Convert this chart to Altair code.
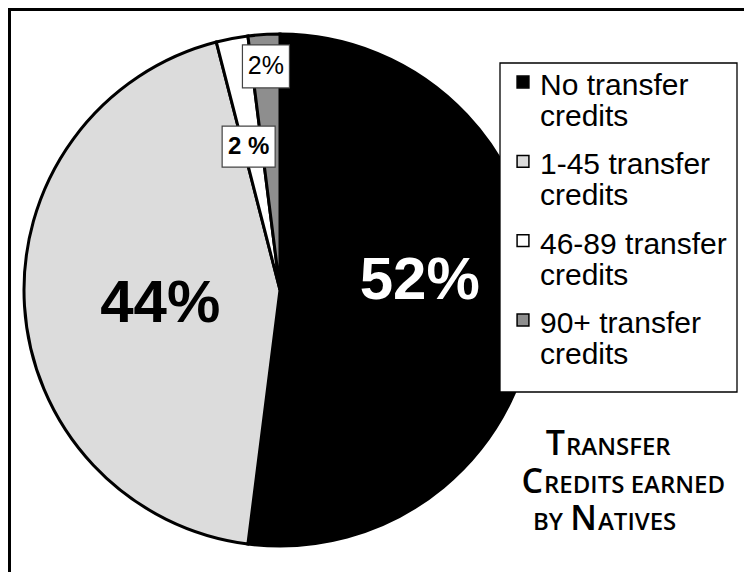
import math
import altair as alt
import pandas as pd

# ---- data ----
categories = ["No transfer credits", "1-45 transfer credits",
              "46-89 transfer credits", "90+ transfer credits"]
legend_line1 = ["No transfer", "1-45 transfer", "46-89 transfer", "90+ transfer"]
legend_line2 = ["credits", "credits", "credits", "credits"]
values = [52, 44, 2, 2]
labels = ["52%", "44%", "2 %", "2%"]
colors = ["#000000", "#dcdcdc", "#ffffff", "#8e8e8e"]

title_line1 = ["T", "RANSFER"]
title_line2 = ["C", "REDITS EARNED"]
title_line3 = ["BY", "N", "ATIVES"]

df = pd.DataFrame({
    "category": categories,
    "value": values,
    "label": labels,
    "legend": [a + "\n" + b for a, b in zip(legend_line1, legend_line2)],
    "idx": list(range(len(categories))),
})

W, H = 544, 564
PAD_RIGHT = 736 - W
R = 256
cx, cy = W / 2, H / 2
total = sum(values)

theta_scale = alt.Scale(domain=[0, total])
color_scale = alt.Scale(domain=categories, range=colors)
one = pd.DataFrame({"a": [0]})

base = alt.Chart(df)

pie = base.mark_arc(outerRadius=R, stroke="black", strokeWidth=3).encode(
    theta=alt.Theta("value:Q", stack=True, scale=theta_scale),
    color=alt.Color("category:N", scale=color_scale, legend=None),
    order=alt.Order("idx:Q"),
)

lab = base.transform_window(
    cum="sum(value)", sort=[alt.SortField("idx")], frame=[None, 0]
).transform_calculate(mid="datum.cum - datum.value / 2")


def slice_label(i, radius, size, weight, color, dx=0, dy=0):
    return lab.transform_filter(alt.datum.idx == i).mark_text(
        radius=radius, fontSize=size, fontWeight=weight, font="Liberation Sans",
        color=color, dx=dx, dy=dy, align="center", baseline="middle",
    ).encode(
        theta=alt.Theta("mid:Q", stack=False, scale=theta_scale),
        text="label:N",
    )


def box_for(i, radius, bw, bh, dx=0):
    cum = sum(values[: i + 1])
    a = 2 * math.pi * (cum - values[i] / 2) / total
    bx = cx + radius * math.sin(a) + dx
    by = cy - radius * math.cos(a)
    return alt.Chart(one).mark_rect(fill="white", stroke="#444", strokeWidth=1.2).encode(
        x=alt.value(bx - bw / 2), x2=alt.value(bx + bw / 2),
        y=alt.value(by - bh / 2), y2=alt.value(by + bh / 2),
    )


lab52 = slice_label(0, 140, 60, "bold", "white", dy=-18)
lab44 = slice_label(1, 120, 60, "bold", "black", dy=6)
box46 = box_for(2, 146, 53, 41, dx=-4)
lab46 = slice_label(2, 146, 24, "bold", "black", dx=-4)
box90 = box_for(3, 224, 47, 43)
lab90 = slice_label(3, 224, 25, "normal", "black")

# ---- legend ----
legend_box = alt.Chart(one).mark_rect(fill="white", stroke="black", strokeWidth=1.3).encode(
    x=alt.value(492), x2=alt.value(729), y=alt.value(55), y2=alt.value(384)
)
ly = alt.Y("category:N", sort=categories, axis=None,
           scale=alt.Scale(type="point", padding=0, range=[87, 325]))
legend_sym = base.mark_point(shape="square", filled=True, size=140, stroke="black",
                             strokeWidth=1.5, opacity=1, yOffset=-13).encode(
    x=alt.value(515), y=ly,
    fill=alt.Color("category:N", scale=color_scale, legend=None),
)
legend_txt = base.mark_text(align="left", baseline="alphabetic", lineBreak="\n",
                            lineHeight=31, fontSize=30, font="Liberation Sans",
                            color="black").encode(
    x=alt.value(532), y=ly, text="legend:N"
)

# ---- title (small caps) ----
TF = "Open Sans"
BIG, SMALL = 34, 24


def ttext(txt, x, y, size, align):
    return alt.Chart(one).mark_text(font=TF, fontSize=size, fontWeight=600,
                                    align=align, baseline="alphabetic",
                                    color="black").encode(
        x=alt.value(x), y=alt.value(y), text=alt.value(txt)
    )


title = [
    ttext(title_line1[0], 557, 447, BIG, "right"),
    ttext(title_line1[1], 558, 447, SMALL, "left"),
    ttext(title_line2[0], 535, 485, BIG, "right"),
    ttext(title_line2[1], 536, 485, SMALL, "left"),
    ttext(title_line3[0], 525, 522, SMALL, "left"),
    ttext(title_line3[1], 589, 522, BIG, "right"),
    ttext(title_line3[2], 590, 522, SMALL, "left"),
]

# ---- frame lines ----
top_rule = alt.Chart(one).mark_rule(color="black", strokeWidth=3).encode(
    x=alt.value(0), x2=alt.value(W + PAD_RIGHT), y=alt.value(1.5)
)
left_rule = alt.Chart(one).mark_rule(color="black", strokeWidth=3).encode(
    x=alt.value(1.5), y=alt.value(0), y2=alt.value(H)
)

chart = alt.layer(
    pie, lab52, lab44, box46, lab46, box90, lab90,
    legend_box, legend_sym, legend_txt, *title, top_rule, left_rule,
).properties(
    width=W, height=H,
    autosize=alt.AutoSizeParams(type="none"),
    padding={"left": 0, "top": 0, "right": PAD_RIGHT, "bottom": 0},
    background="white",
).configure_view(stroke=None)

chart.save("out.html", embed_options={"renderer": "svg", "actions": False})
